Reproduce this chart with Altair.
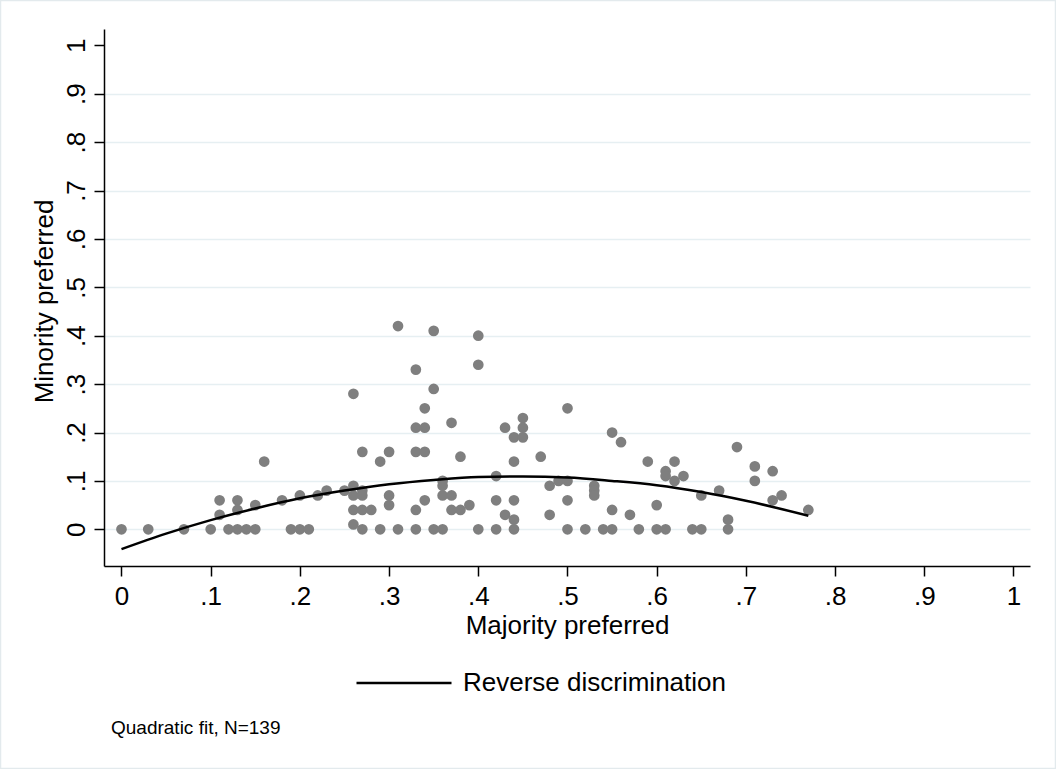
import altair as alt
import pandas as pd

# Scatter points (Majority preferred, Minority preferred)
maj = [0.00, 0.03, 0.07, 0.10, 0.11, 0.11, 0.12, 0.13, 0.13, 0.13,
       0.14, 0.15, 0.15, 0.16, 0.18, 0.19, 0.20, 0.20, 0.21, 0.22,
       0.23, 0.25, 0.26, 0.26, 0.26, 0.26, 0.26, 0.27, 0.27, 0.27,
       0.27, 0.27, 0.28, 0.29, 0.29, 0.30, 0.30, 0.30, 0.31, 0.31,
       0.33, 0.33, 0.33, 0.33, 0.33, 0.34, 0.34, 0.34, 0.34, 0.35,
       0.35, 0.35, 0.36, 0.36, 0.36, 0.36, 0.37, 0.37, 0.37, 0.38,
       0.38, 0.39, 0.40, 0.40, 0.40, 0.42, 0.42, 0.42, 0.43, 0.43,
       0.44, 0.44, 0.44, 0.44, 0.44, 0.45, 0.45, 0.45, 0.47, 0.48,
       0.48, 0.49, 0.50, 0.50, 0.50, 0.50, 0.52, 0.53, 0.53, 0.53,
       0.54, 0.55, 0.55, 0.55, 0.56, 0.57, 0.58, 0.59, 0.60, 0.60,
       0.61, 0.61, 0.61, 0.62, 0.62, 0.63, 0.64, 0.65, 0.65, 0.67,
       0.68, 0.68, 0.69, 0.71, 0.71, 0.73, 0.73, 0.74, 0.77]
mino = [0.00, 0.00, 0.00, 0.00, 0.06, 0.03, 0.00, 0.06, 0.04, 0.00,
        0.00, 0.00, 0.05, 0.14, 0.06, 0.00, 0.00, 0.07, 0.00, 0.07,
        0.08, 0.08, 0.09, 0.28, 0.07, 0.04, 0.01, 0.08, 0.07, 0.04,
        0.00, 0.16, 0.04, 0.14, 0.00, 0.16, 0.07, 0.05, 0.00, 0.42,
        0.33, 0.21, 0.16, 0.04, 0.00, 0.25, 0.21, 0.16, 0.06, 0.41,
        0.29, 0.00, 0.00, 0.10, 0.09, 0.07, 0.22, 0.07, 0.04, 0.15,
        0.04, 0.05, 0.40, 0.34, 0.00, 0.11, 0.06, 0.00, 0.21, 0.03,
        0.19, 0.14, 0.06, 0.02, 0.00, 0.23, 0.21, 0.19, 0.15, 0.09,
        0.03, 0.10, 0.25, 0.10, 0.06, 0.00, 0.00, 0.09, 0.08, 0.07,
        0.00, 0.20, 0.04, 0.00, 0.18, 0.03, 0.00, 0.14, 0.05, 0.00,
        0.00, 0.12, 0.11, 0.14, 0.10, 0.11, 0.00, 0.00, 0.07, 0.08,
        0.02, 0.00, 0.17, 0.13, 0.10, 0.12, 0.06, 0.07, 0.04]

# Quadratic fit line
fit_x = [0.00, 0.05, 0.10, 0.15, 0.20, 0.25, 0.30, 0.35, 0.40, 0.45,
         0.50, 0.55, 0.60, 0.65, 0.70, 0.77]
fit_y = [-0.041, -0.009, 0.019, 0.043, 0.064, 0.080, 0.093, 0.102, 0.108, 0.109,
         0.107, 0.100, 0.091, 0.077, 0.059, 0.028]

series_name = "Reverse discrimination"
note_text = "Quadratic fit, N=139"
tick_vals = [0, 0.1, 0.2, 0.3, 0.4, 0.5, 0.6, 0.7, 0.8, 0.9, 1]

FONT = "Liberation Sans"

pts = pd.DataFrame({"maj": maj, "mino": mino})
fit = pd.DataFrame({"maj": fit_x, "mino": fit_y, "series": series_name})

lbl = "datum.value == 0 ? '0' : datum.value == 1 ? '1' : '.' + round(datum.value * 10)"

xscale = alt.Scale(domain=[-0.0196, 1.0185], nice=False, zero=False)
yscale = alt.Scale(domain=[-0.0758, 1.0337], nice=False, zero=False)

xaxis = alt.Axis(values=tick_vals, labelExpr=lbl, title="Majority preferred",
                 grid=False, tickSize=10, labelPadding=7, labelFontSize=26,
                 titleFontSize=26, titleFontWeight="normal", titleY=67,
                 titleBaseline="alphabetic", labelFlush=False)
yaxis = alt.Axis(values=tick_vals, labelExpr=lbl, title="Minority preferred",
                 grid=True, gridColor="#E6EFF2", gridWidth=1.6,
                 gridOpacity={"condition": {"test": "datum.value >= 0.99", "value": 0}, "value": 1},
                 tickSize=10, labelAngle=-90, labelAlign="center",
                 labelBaseline="alphabetic", labelPadding=10, labelFontSize=26,
                 titleFontSize=26, titleFontWeight="normal", titleAngle=-90,
                 titleX=-52, titleY=272, titleAlign="center",
                 titleBaseline="alphabetic", labelFlush=False)

scatter = alt.Chart(pts).mark_circle(size=115, color="#7F7F7F", opacity=1).encode(
    x=alt.X("maj:Q", scale=xscale, axis=xaxis),
    y=alt.Y("mino:Q", scale=yscale, axis=yaxis),
)

line = alt.Chart(fit).mark_line(strokeWidth=2.5, interpolate="monotone").encode(
    x=alt.X("maj:Q", scale=xscale),
    y=alt.Y("mino:Q", scale=yscale),
    color=alt.Color("series:N", scale=alt.Scale(range=["black"]),
                    legend=alt.Legend(title=None, orient="none", legendX=251, legendY=605,
                                      symbolType="stroke", symbolSize=9025,
                                      symbolStrokeWidth=2.5, labelFontSize=26,
                                      labelFont=FONT, labelOffset=10, padding=0,
                                      labelLimit=0, labelColor="black")),
)

note = alt.Chart(pd.DataFrame({"t": [note_text]})).mark_text(
    align="left", baseline="alphabetic", fontSize=19, font=FONT, color="black"
).encode(x=alt.value(7), y=alt.value(705), text="t:N")

border = alt.Chart(pd.DataFrame({"a": [0]})).mark_rect(
    fill=None, stroke="#E3EAED", strokeWidth=1.5
).encode(x=alt.value(-103.5), x2=alt.value(951.5), y=alt.value(-28.5), y2=alt.value(739.5))

chart = alt.layer(border, scatter, line, note).properties(
    width=926, height=537,
    padding={"left": 104, "top": 29, "right": 26, "bottom": 203},
    autosize=alt.AutoSizeParams(type="none"),
    background="white",
).configure_view(stroke=None).configure_axis(
    labelFont=FONT, titleFont=FONT, labelColor="black", titleColor="black",
    domainColor="black", tickColor="black", domainWidth=1.5, tickWidth=1.5,
)

chart.save("out.html", embed_options={"renderer": "svg", "actions": False})
